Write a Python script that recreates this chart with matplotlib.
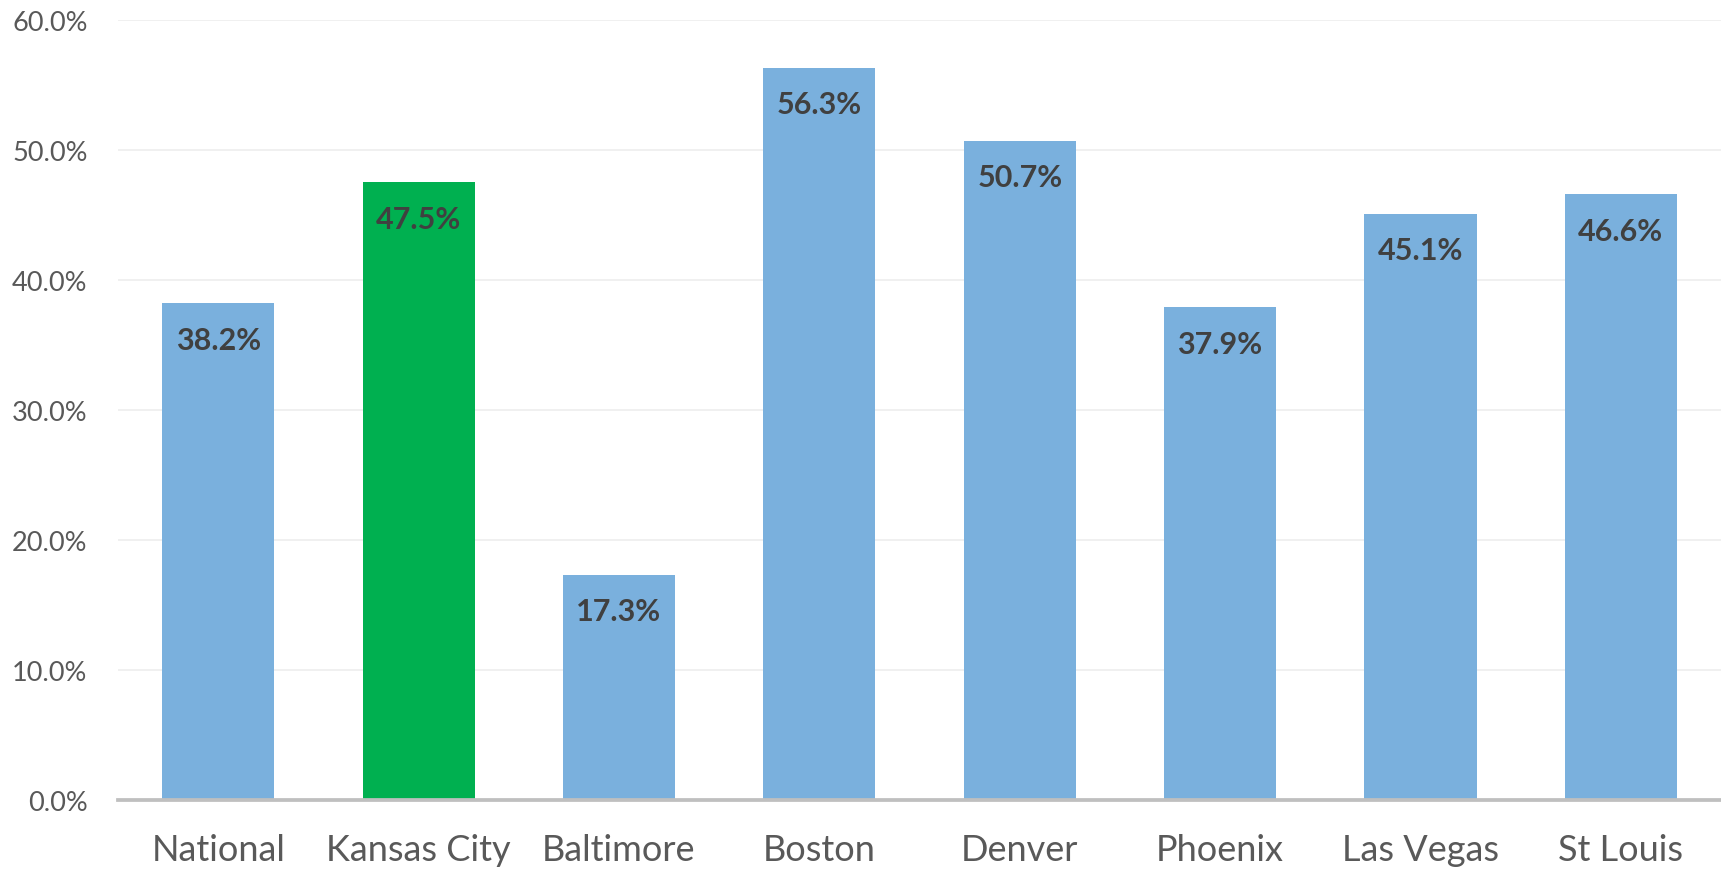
import matplotlib.pyplot as plt
from matplotlib.ticker import FuncFormatter

# data
cities = ['National', 'Kansas City', 'Baltimore', 'Boston', 'Denver',
          'Phoenix', 'Las Vegas', 'St Louis']
shares = [38.2, 47.5, 17.3, 56.3, 50.7, 37.9, 45.1, 46.6]
highlight = 'Kansas City'

blue = '#7AB0DD'
green = '#00B050'

plt.rcParams['font.family'] = ['Lato', 'DejaVu Sans']

fig = plt.figure(figsize=(17.21, 8.70), dpi=100)
ax = fig.add_axes([0.0686, 0.0793, 0.9314, 0.8966])

colors = [green if c == highlight else blue for c in cities]
vals = [v / 100 for v in shares]
x = range(len(cities))
ax.bar(x, vals, width=0.56, color=colors, zorder=3)

# labels inside the top of each bar
for xi, v in zip(x, vals):
    ax.text(xi, v - 0.028, f'{v * 100:.1f}%', ha='center', va='center',
            fontsize=22, fontweight='bold', color='#404040', zorder=4)

ax.set_xlim(-0.5, len(cities) - 0.5)
ax.set_ylim(0, 0.6)
ax.set_yticks([i / 10 for i in range(7)])
ax.yaxis.set_major_formatter(FuncFormatter(lambda v, p: f'{v * 100:.1f}%'))
ax.set_xticks(list(x))
ax.set_xticklabels(cities)

ax.grid(axis='y', color='#EFEFEF', linewidth=1.3, zorder=0)
for s in ['top', 'right', 'left']:
    ax.spines[s].set_visible(False)
ax.spines['bottom'].set_color('#BFBFBF')
ax.spines['bottom'].set_linewidth(2.7)
ax.spines['bottom'].set_zorder(5)

ax.tick_params(axis='y', length=0, pad=22, labelsize=19.5, labelcolor='#595959')
ax.tick_params(axis='x', length=0, pad=24, labelsize=26, labelcolor='#595959')

fig.savefig('out.png', dpi=100)
